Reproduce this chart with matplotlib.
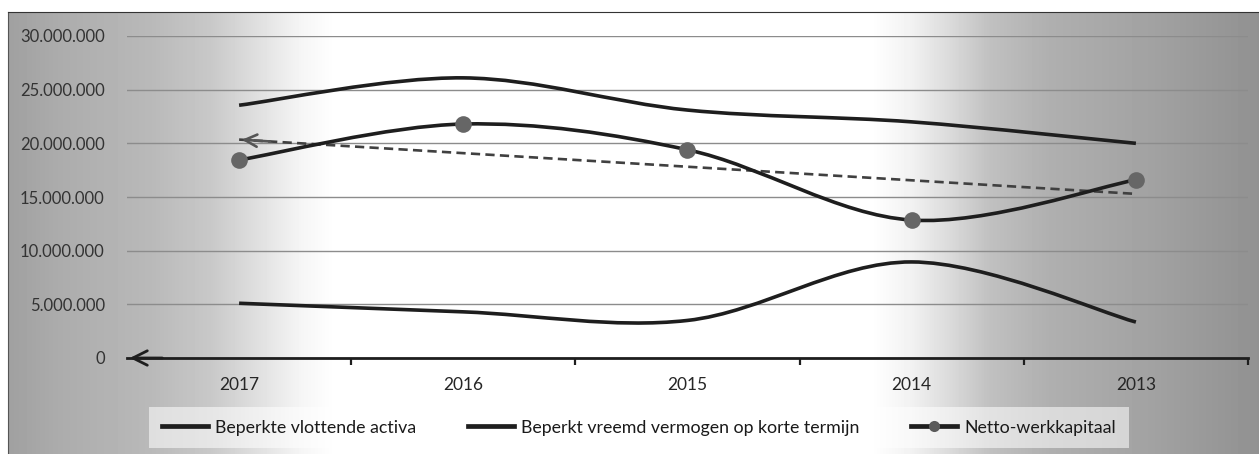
import numpy as np
import matplotlib
matplotlib.use('Agg')
import matplotlib.pyplot as plt
from matplotlib.path import Path
from matplotlib.patches import PathPatch
from matplotlib.ticker import FuncFormatter, FixedLocator

plt.rcParams['font.family'] = ['Lato', 'DejaVu Sans']

years = ['2017', '2016', '2015', '2014', '2013']
vlottende_activa = [23550000, 26100000, 23100000, 22000000, 20000000]
vreemd_vermogen = [5100000, 4300000, 3500000, 8950000, 3350000]
netto_werkkapitaal = [18450000, 21800000, 19400000, 12850000, 16600000]

W, H = 1259, 454


def smooth_path(xs, ys):
    # Excel-like smoothed line: Catmull-Rom segments as cubic Beziers
    pts = np.column_stack([xs, ys]).astype(float)
    n = len(pts)
    verts = [pts[0]]
    codes = [Path.MOVETO]
    for i in range(n - 1):
        p0 = pts[i - 1] if i > 0 else pts[i]
        p1 = pts[i]
        p2 = pts[i + 1]
        p3 = pts[i + 2] if i + 2 < n else pts[i + 1]
        c1 = p1 + (p2 - p0) / 6.0
        c2 = p2 - (p3 - p1) / 6.0
        verts += [c1, c2, p2]
        codes += [Path.CURVE4] * 3
    return Path(verts, codes)


fig = plt.figure(figsize=(W / 100, H / 100), dpi=100)
fig.patch.set_facecolor('white')

# scanned grey/white gradient background
bg = fig.add_axes([8 / W, 0, 1 - 8 / W, (H - 12) / H], zorder=-5)
px = np.arange(8, W)
stops_x = [8, 60, 150, 210, 260, 300, 335, 870, 910, 950, 990, 1050, 1150, 1259]
stops_v = [160, 172, 185, 200, 225, 245, 255, 255, 242, 218, 192, 175, 162, 145]
grad = np.interp(px, stops_x, stops_v)
bg.imshow(np.tile(grad, (10, 1)), cmap='gray', vmin=0, vmax=255,
          aspect='auto', extent=[0, 1, 0, 1])
bg.set_xticks([])
bg.set_yticks([])
for s in ['bottom', 'right']:
    bg.spines[s].set_visible(False)
bg.spines['top'].set_color('#333333')
bg.spines['left'].set_color('#555555')

ax = fig.add_axes([127 / W, 1 - 358 / H, (1248 - 127) / W, (358 - 36) / H])
ax.set_facecolor('none')
x = np.arange(len(years))

line_kw = dict(color='#1e1e1e', lw=2.6, fill=False, capstyle='butt', zorder=3)
ax.add_patch(PathPatch(smooth_path(x, vlottende_activa), **line_kw))
ax.add_patch(PathPatch(smooth_path(x, vreemd_vermogen), **line_kw))
ax.add_patch(PathPatch(smooth_path(x, netto_werkkapitaal), **line_kw))
ax.plot(x, netto_werkkapitaal, 'o', color='#666666', markersize=12,
        markeredgewidth=0, zorder=4)

# linear trendline on netto-werkkapitaal
k, b = np.polyfit(x, netto_werkkapitaal, 1)
trend = k * x + b
ax.plot(x, trend, color='#404040', lw=1.9, linestyle=(0, (3.5, 2)), zorder=2)
ax.annotate('', xy=(x[0], trend[0]), xytext=(x[0] + 0.15, trend[0] + 0.15 * k),
            arrowprops=dict(arrowstyle='->', color='#555555', lw=1.9,
                            mutation_scale=22), zorder=2)

ax.set_xlim(-0.5, len(years) - 0.5)
ax.set_ylim(0, 30000000)
ax.set_xticks(x)
ax.set_xticklabels(years)
ax.xaxis.set_minor_locator(FixedLocator(np.arange(0.5, len(years), 1.0)))
ax.tick_params(axis='x', which='major', length=0, pad=14, labelsize=12.5,
               labelcolor='#262626')
ax.tick_params(axis='x', which='minor', length=5, width=1.6, color='#1e1e1e')
ax.set_yticks(np.arange(0, 30000001, 5000000))
ax.yaxis.set_major_formatter(FuncFormatter(lambda v, p: f'{v:,.0f}'.replace(',', '.')))
ax.tick_params(axis='y', length=0, pad=16, labelsize=12, labelcolor='#333333')
ax.grid(axis='y', color='#8c8c8c', lw=1)
for s in ['top', 'right', 'left']:
    ax.spines[s].set_visible(False)
ax.spines['bottom'].set_color('#1e1e1e')
ax.spines['bottom'].set_linewidth(2)
ax.annotate('', xy=(-0.5, 0), xytext=(-0.33, 0),
            arrowprops=dict(arrowstyle='->', color='#1e1e1e', lw=2,
                            mutation_scale=26), annotation_clip=False)

handles = [
    plt.Line2D([], [], color='#1e1e1e', lw=3.4),
    plt.Line2D([], [], color='#1e1e1e', lw=3.4),
    plt.Line2D([], [], color='#1e1e1e', lw=3.4, marker='o', markersize=8,
               markerfacecolor='#5a5a5a', markeredgewidth=0),
]
labels = ['Beperkte vlottende activa', 'Beperkt vreemd vermogen op korte termijn',
          'Netto-werkkapitaal']
leg = fig.legend(handles, labels, loc='center', ncol=3,
                 bbox_to_anchor=(639 / W, 1 - 427.5 / H), frameon=True,
                 fancybox=False, framealpha=0.55, facecolor='white',
                 edgecolor='none', fontsize=12.8, handlelength=2.6,
                 handletextpad=0.4, columnspacing=2.9, borderpad=0.7,
                 borderaxespad=0)
for t in leg.get_texts():
    t.set_color('#1a1a1a')

fig.savefig('out.png', dpi=100)
